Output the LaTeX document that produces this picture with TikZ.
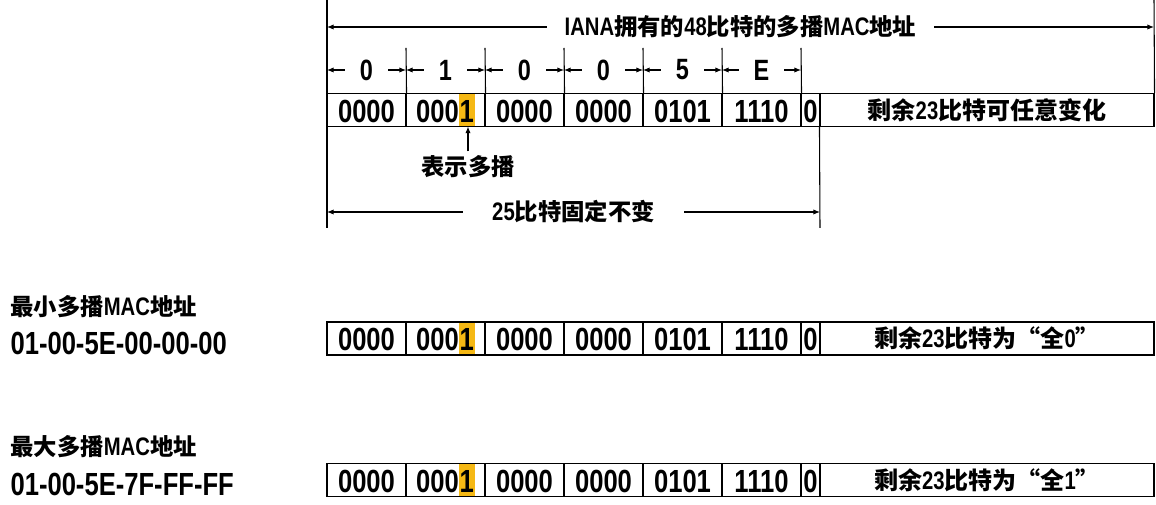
\documentclass[tikz,border=0pt]{standalone}
\usepackage{fontspec}
\setmainfont{Liberation Sans}[FakeStretch=0.8]
\newfontfamily\cjk{Noto Sans CJK SC}
\usetikzlibrary{arrows.meta}
\definecolor{mcast}{RGB}{245,184,20}
\newcommand{\zh}[2][17.5pt]{{\cjk\fontsize{#1}{20pt}\selectfont #2}}
\newcommand{\mbit}{{\setlength{\fboxsep}{0pt}\colorbox{mcast}{\hspace{0.6pt}\rule[-2.5pt]{0pt}{23.3pt}1\hspace{0.6pt}}}}

\begin{document}
\begin{tikzpicture}[x=0.75pt,y=-0.75pt,line width=0.8pt,
    bits/.style={draw,minimum width=59.25pt,minimum height=24.75pt,inner sep=0pt,
      text height=20.8pt,text depth=2.5pt,font=\bfseries\fontsize{24pt}{26pt}\selectfont},
    flag/.style={bits,minimum width=14.25pt},
    rest/.style={draw,minimum width=250.5pt,minimum height=24.75pt,inner sep=0pt,
      font=\bfseries\fontsize{19pt}{21pt}\selectfont},
    lbl/.style={inner sep=0pt,font=\bfseries\fontsize{19pt}{21pt}\selectfont},
    addr/.style={inner sep=0pt,anchor=base west,font=\bfseries\fontsize{24pt}{26pt}\selectfont},
    tip/.style={-{Latex[length=5pt,width=4pt]}}]

  \useasboundingbox (0,0) rectangle (1156,505);

  % IANA block
  \node[bits] (t1) at (366.5,110) {0000};
  \node[bits] (t2) at (445.5,110) {000\mbit};
  \node[bits] (t3) at (524.5,110) {0000};
  \node[bits] (t4) at (603.5,110) {0000};
  \node[bits] (t5) at (682.5,110) {0101};
  \node[bits] (t6) at (761.5,110) {1110};
  \node[flag] (t7) at (810.5,110) {0};
  \node[rest] (t8) at (987,110) {\zh[18pt]{剩余}23\zh[18pt]{比特可任意变化}};

  \coordinate (lt) at (327,0);
  \coordinate (lb) at (327,228);
  \coordinate (rt) at (1154,0);
  \coordinate (mb) at (820,228);
  \draw (lt) -- (lb);
  \draw (rt) -- (t8.north east);
  \draw (t8.south west) -- (mb);

  \coordinate (h1) at (406,48);
  \coordinate (h2) at (485,48);
  \coordinate (h3) at (564,48);
  \coordinate (h4) at (643,48);
  \coordinate (h5) at (722,48);
  \coordinate (h6) at (801,48);
  \draw (h1) -- (t1.north east);
  \draw (h2) -- (t2.north east);
  \draw (h3) -- (t3.north east);
  \draw (h4) -- (t4.north east);
  \draw (h5) -- (t5.north east);
  \draw (h6) -- (t6.north east);

  \coordinate (a0) at (327,70);
  \coordinate (a1) at (406,70);
  \coordinate (a2) at (485,70);
  \coordinate (a3) at (564,70);
  \coordinate (a4) at (643,70);
  \coordinate (a5) at (722,70);
  \coordinate (a6) at (801,70);
  \coordinate (ttl) at (327,27);
  \coordinate (ttr) at (1154,27);
  \coordinate (bl) at (327,212);
  \coordinate (br) at (820,212);

  \begin{scope}[every node/.style={fill=white,inner ysep=1pt},
      every edge/.style={draw,{Latex[length=5pt,width=4pt]}-{Latex[length=5pt,width=4pt]}}]
    \begin{scope}[every node/.append style={inner xsep=11pt,font=\bfseries\fontsize{22pt}{24pt}\selectfont}]
      \path (a0) edge node {0} (a1);
      \path (a1) edge node {1} (a2);
      \path (a2) edge node {0} (a3);
      \path (a3) edge node {0} (a4);
      \path (a4) edge node {5} (a5);
      \path (a5) edge node {E} (a6);
    \end{scope}
    \path (ttl) edge node[lbl,fill=white,inner xsep=13.5pt] {IANA\zh{拥有的}48\zh{比特的多播}MAC\zh{地址}} (ttr);
    \path (bl)  edge node[lbl,fill=white,inner xsep=22pt] {25\zh{比特固定不变}} (br);
  \end{scope}

  % multicast bit
  \coordinate (mtip) at (468,126.5);
  \node[lbl] (mlab) at (468,167) {\zh{表示多播}};
  \draw[tip] (mlab.north) ++(0,-4) -- (mtip);

  % min address
  \node[lbl,anchor=west] (minlab) at (10,307) {\zh{最小多播}MAC\zh{地址}};
  \node[addr] (minaddr) at (10,355) {01-00-5E-00-00-00};
  \node[bits] (n1) at (366.5,338.5) {0000};
  \node[bits] (n2) at (445.5,338.5) {000\mbit};
  \node[bits] (n3) at (524.5,338.5) {0000};
  \node[bits] (n4) at (603.5,338.5) {0000};
  \node[bits] (n5) at (682.5,338.5) {0101};
  \node[bits] (n6) at (761.5,338.5) {1110};
  \node[flag] (n7) at (810.5,338.5) {0};
  \node[rest] (n8) at (987,338.5) {\zh[18pt]{剩余}23\zh[18pt]{比特为“全}0\zh[18pt]{”}};

  % max address
  \node[lbl,anchor=west] (maxlab) at (10,447) {\zh{最大多播}MAC\zh{地址}};
  \node[addr] (maxaddr) at (10,495) {01-00-5E-7F-FF-FF};
  \node[bits] (x1) at (366.5,480) {0000};
  \node[bits] (x2) at (445.5,480) {000\mbit};
  \node[bits] (x3) at (524.5,480) {0000};
  \node[bits] (x4) at (603.5,480) {0000};
  \node[bits] (x5) at (682.5,480) {0101};
  \node[bits] (x6) at (761.5,480) {1110};
  \node[flag] (x7) at (810.5,480) {0};
  \node[rest] (x8) at (987,480) {\zh[18pt]{剩余}23\zh[18pt]{比特为“全}1\zh[18pt]{”}};

\end{tikzpicture}
\end{document}
